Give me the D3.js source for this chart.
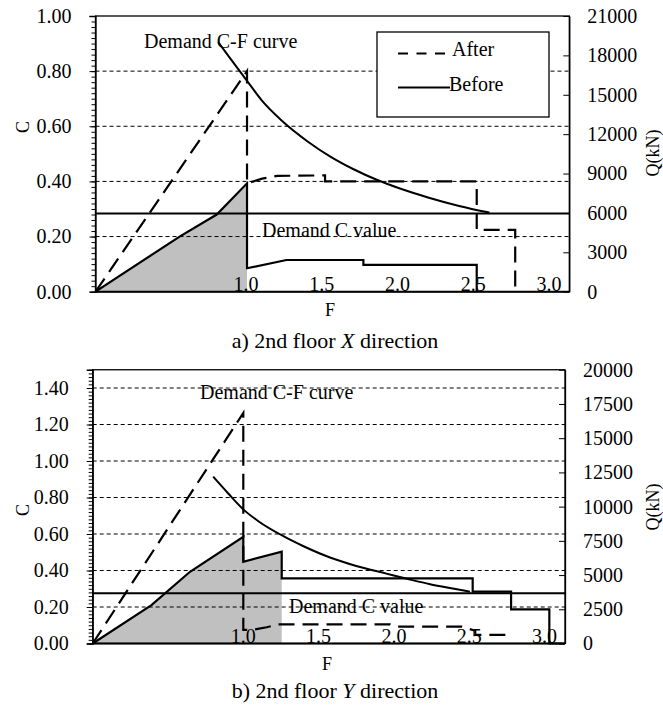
<!DOCTYPE html>
<html><head><meta charset="utf-8">
<script src="https://cdn.jsdelivr.net/npm/d3@7"></script>
<style>
body{margin:0;background:#fff}
text{font-family:"Liberation Serif","Times New Roman",serif;fill:#000}
</style>
</head><body>
<svg id="chart" width="663" height="705"></svg>
<script>
// ---------- shared ----------
const xTickValues = [1.0, 1.5, 2.0, 2.5, 3.0];
const xTickLabels = ["1.0", "1.5", "2.0", "2.5", "3.0"];
const legendLabels = ["After", "Before"];

// ---------- panel a) 2nd floor X direction ----------
const aCTicks = [0, 0.2, 0.4, 0.6, 0.8, 1.0];
const aCGrid = [0.2, 0.4, 0.6, 0.8];
const aQTicks = [0, 3000, 6000, 9000, 12000, 15000, 18000, 21000];
const aDemandC = 0.284;
const aDemandCurve = [[0.81,0.905],[0.9,0.838],[1.0,0.765],[1.1,0.692],[1.23,0.620],[1.4,0.545],[1.55,0.490],[1.7,0.445],[1.86,0.405],[2.0,0.376],[2.2,0.341],[2.4,0.311],[2.60,0.287]];
const aBefore = [[0,0],[0.555,0.200],[0.80,0.280],[1.0,0.393],[1.0,0.085],[1.26,0.115],[1.768,0.115],[1.768,0.097],[2.516,0.097],[2.516,0]];
const aAfter = [[0,0],[1.0,0.800],[1.0,0.393],[1.1,0.410],[1.2,0.420],[1.515,0.422],[1.515,0.400],[2.516,0.400],[2.516,0.224],[2.77,0.224],[2.77,0]];
const aFillUntil = 1.0;

// ---------- panel b) 2nd floor Y direction ----------
const bCTicks = [0, 0.2, 0.4, 0.6, 0.8, 1.0, 1.2, 1.4];
const bCGrid = [0.2, 0.4, 0.6, 0.8, 1.0, 1.2, 1.4];
const bQTicks = [0, 2500, 5000, 7500, 10000, 12500, 15000, 17500, 20000];
const bDemandC = 0.275;
const bDemandCurve = [[0.80,0.914],[0.9,0.822],[1.0,0.735],[1.1,0.670],[1.266,0.588],[1.4,0.533],[1.58,0.470],[1.75,0.425],[1.95,0.383],[2.1,0.352],[2.24,0.325],[2.4,0.300],[2.505,0.284]];
const bBefore = [[0,0],[0.39,0.210],[0.646,0.393],[1.0,0.585],[1.0,0.448],[1.255,0.503],[1.255,0.357],[2.523,0.357],[2.523,0.284],[2.778,0.284],[2.778,0.187],[3.032,0.187],[3.032,0],[3.13,0]];
const bAfter = [[0,0],[1.0,1.263],[1.0,0.075],[1.056,0.074],[1.155,0.089],[1.23,0.105],[1.975,0.105],[2.02,0.092],[2.45,0.092],[2.54,0.070],[2.54,0.047],[2.77,0.047]];
const bFillUntil = 1.255;

const svg = d3.select("#chart");

function panel(cfg) {
  const g = svg.append("g");
  const x = d3.scaleLinear().domain([0, cfg.xMax]).range([cfg.left, cfg.right]);
  const y = d3.scaleLinear().domain([0, cfg.cMax]).range([cfg.bottom, cfg.top]);
  const yQ = d3.scaleLinear().domain([0, cfg.qMax]).range([cfg.bottom, cfg.top]);

  // gray fill under "Before" up to fill limit
  const fillPts = cfg.before.filter(d => d[0] <= cfg.fillUntil + 1e-9);
  g.append("path")
    .attr("d", d3.area().x(d => x(d[0])).y0(y(0)).y1(d => y(d[1]))(fillPts))
    .attr("fill", "#c0c0c0").attr("stroke", "none");

  // grid lines
  g.selectAll(".grid").data(cfg.grid).join("line")
    .attr("x1", cfg.left).attr("x2", cfg.right)
    .attr("y1", d => y(d)).attr("y2", d => y(d))
    .attr("stroke", "#000").attr("stroke-width", 1).attr("stroke-dasharray", "4,3");

  // plot frame
  g.append("rect").attr("x", cfg.left).attr("y", cfg.top)
    .attr("width", cfg.right - cfg.left).attr("height", cfg.bottom - cfg.top)
    .attr("fill", "none").attr("stroke", "#000").attr("stroke-width", 1.3);

  // left axis: minor + major ticks
  const minor = d3.range(0, cfg.cMax + 1e-9, 0.02);
  g.append("g").attr("transform", `translate(${cfg.left},0)`)
    .call(d3.axisLeft(y).tickValues(minor).tickSize(4).tickFormat(""))
    .call(a => a.select(".domain").remove())
    .call(a => a.selectAll("line").attr("stroke-width", 1));
  g.append("g").attr("transform", `translate(${cfg.left},0)`)
    .call(d3.axisLeft(y).tickValues(cfg.cTicks).tickSize(6).tickPadding(18).tickFormat(d3.format(".2f")))
    .call(a => a.select(".domain").attr("stroke-width", 1.3))
    .call(a => a.selectAll("text").attr("font-size", 20).attr("font-family", "Liberation Serif"));

  // right axis (Q), ticks pointing inward
  g.append("g").attr("transform", `translate(${cfg.right},0)`)
    .call(d3.axisRight(yQ).tickValues(cfg.qTicks).tickSizeInner(-6).tickSizeOuter(0).tickPadding(18).tickFormat(d3.format("d")))
    .call(a => a.select(".domain").attr("stroke-width", 1.3))
    .call(a => a.selectAll("text").attr("font-size", 20).attr("font-family", "Liberation Serif"));

  // x axis baseline and labels inside the plot
  g.append("line").attr("x1", cfg.left).attr("x2", cfg.right)
    .attr("y1", cfg.bottom).attr("y2", cfg.bottom).attr("stroke", "#000").attr("stroke-width", 2);
  g.selectAll(".xl").data(xTickValues).join("text")
    .attr("x", d => x(d) + cfg.xLabelShift).attr("y", cfg.bottom - 0.5)
    .attr("text-anchor", "middle").attr("font-size", 20)
    .text((d, i) => xTickLabels[i]);

  // demand C value
  g.append("line").attr("x1", cfg.left).attr("x2", cfg.right)
    .attr("y1", y(cfg.demandC)).attr("y2", y(cfg.demandC))
    .attr("stroke", "#000").attr("stroke-width", 2);

  const lineLin = d3.line().x(d => x(d[0])).y(d => y(d[1]));
  const lineCurve = d3.line().x(d => x(d[0])).y(d => y(d[1])).curve(d3.curveMonotoneX);

  g.append("path").attr("d", lineCurve(cfg.demandCurve))
    .attr("fill", "none").attr("stroke", "#000").attr("stroke-width", 2);
  g.append("path").attr("d", lineLin(cfg.before))
    .attr("fill", "none").attr("stroke", "#000").attr("stroke-width", 2.2).attr("stroke-linejoin", "miter");
  g.append("path").attr("d", lineLin(cfg.after))
    .attr("fill", "none").attr("stroke", "#000").attr("stroke-width", 2.2)
    .attr("stroke-dasharray", "16,8");

  // annotations
  g.append("text").attr("x", cfg.curveLabel[0]).attr("y", cfg.curveLabel[1])
    .attr("font-size", 20).text("Demand C-F curve");
  g.append("text").attr("x", cfg.cLabel[0]).attr("y", cfg.cLabel[1])
    .attr("font-size", 20).text("Demand C value");

  // axis titles
  g.append("text").attr("transform", `translate(${cfg.cTitle[0]},${cfg.cTitle[1]}) rotate(-90)`)
    .attr("text-anchor", "middle").attr("dominant-baseline", "central").attr("font-size", 18).text("C");
  g.append("text").attr("transform", `translate(${cfg.qTitle[0]},${cfg.qTitle[1]}) rotate(-90)`)
    .attr("text-anchor", "middle").attr("dominant-baseline", "central").attr("font-size", 18).text("Q(kN)");
  g.append("text").attr("x", cfg.fTitle[0]).attr("y", cfg.fTitle[1])
    .attr("text-anchor", "middle").attr("font-size", 18).text("F");

  // caption
  const cap = g.append("text").attr("x", cfg.caption[0]).attr("y", cfg.caption[1])
    .attr("text-anchor", "middle").attr("font-size", 22);
  cap.append("tspan").text(cfg.capText[0]);
  cap.append("tspan").attr("font-style", "italic").text(cfg.capText[1]);
  cap.append("tspan").text(cfg.capText[2]);

  if (cfg.legend) {
    const L = cfg.legend;
    const lg = g.append("g");
    lg.append("rect").attr("x", L.x).attr("y", L.y).attr("width", L.w).attr("height", L.h)
      .attr("fill", "#fff").attr("stroke", "#000").attr("stroke-width", 1.3);
    lg.append("line").attr("x1", L.x + 21).attr("x2", L.x + 70)
      .attr("y1", L.y + 21.5).attr("y2", L.y + 21.5)
      .attr("stroke", "#000").attr("stroke-width", 2.2).attr("stroke-dasharray", "10,8.5");
    lg.append("text").attr("x", L.x + 75).attr("y", L.y + 24).attr("font-size", 20).text(legendLabels[0]);
    lg.append("line").attr("x1", L.x + 21).attr("x2", L.x + 73)
      .attr("y1", L.y + 55.5).attr("y2", L.y + 55.5)
      .attr("stroke", "#000").attr("stroke-width", 2.2);
    lg.append("text").attr("x", L.x + 72).attr("y", L.y + 58.5).attr("font-size", 20).text(legendLabels[1]);
  }
}

panel({
  left: 95.5, right: 569.3, top: 16, bottom: 291.7,
  xMax: 3.127, cMax: 1.0, qMax: 21000,
  cTicks: aCTicks, grid: aCGrid, qTicks: aQTicks,
  demandC: aDemandC, demandCurve: aDemandCurve, before: aBefore, after: aAfter,
  fillUntil: aFillUntil, xLabelShift: -1,
  curveLabel: [144, 48], cLabel: [262, 237],
  cTitle: [23, 127], qTitle: [653, 153], fTitle: [330, 315.5],
  caption: [335, 348], capText: ["a) 2nd floor ", "X", " direction"],
  legend: {x: 377, y: 32, w: 172, h: 85}
});

panel({
  left: 92.7, right: 565, top: 369.75, bottom: 643.5,
  xMax: 3.136, cMax: 1.5, qMax: 20000,
  cTicks: bCTicks, grid: bCGrid, qTicks: bQTicks,
  demandC: bDemandC, demandCurve: bDemandCurve, before: bBefore, after: bAfter,
  fillUntil: bFillUntil, xLabelShift: 0,
  curveLabel: [200, 399], cLabel: [289, 613],
  cTitle: [23, 510], qTitle: [653, 507], fTitle: [327, 670],
  caption: [335, 698], capText: ["b) 2nd floor ", "Y", " direction"],
  legend: null
});
</script>
</body></html>
